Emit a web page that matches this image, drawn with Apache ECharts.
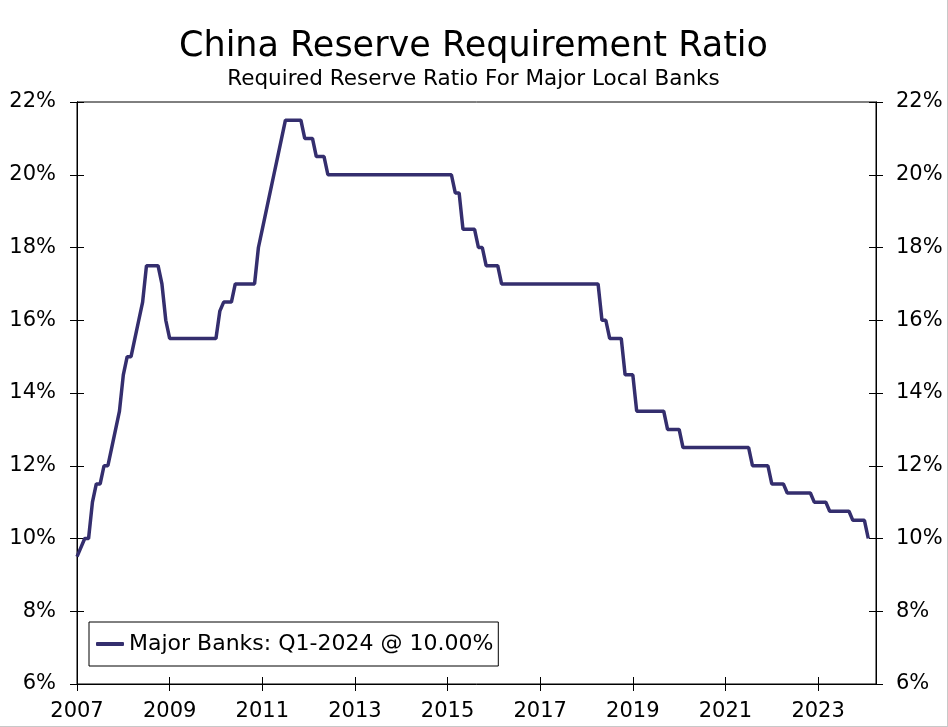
<!DOCTYPE html>
<html>
  <head>
    <meta charset="UTF-8" />
    <title>China Reserve Requirement Ratio</title>
    <style>
      html,
      body {
        margin: 0;
        padding: 0;
        background-color: #fff;
      }
      #main {
        width: 947px;
        height: 726px;
        border-right: 1px solid #c8c8c8;
        border-bottom: 1px solid #c8c8c8;
      }
    </style>
  </head>
  <body>
    <div id="main"></div>
  </body>
  <script src="https://cdn.jsdelivr.net/npm/echarts@6/dist/echarts.min.js"></script>
  <script>
    // monthly reserve ratio for major banks, Jan 2007 .. Feb 2024
    var startYear = 2007;
    var rrr2007_2012 = [
      9.5, 9.75, 10, 10, 11, 11.5, 11.5, 12, 12, 12.5, 13, 13.5,
      14.5, 15, 15, 15.5, 16, 16.5, 17.5, 17.5, 17.5, 17.5, 17, 16,
      15.5, 15.5, 15.5, 15.5, 15.5, 15.5, 15.5, 15.5, 15.5, 15.5, 15.5, 15.5,
      15.5, 16.25, 16.5, 16.5, 16.5, 17, 17, 17, 17, 17, 17, 18,
      18.5, 19, 19.5, 20, 20.5, 21, 21.5, 21.5, 21.5, 21.5, 21.5, 21,
      21, 21, 20.5, 20.5, 20.5, 20, 20, 20, 20, 20, 20, 20,
    ];
    var rrr2013_2018 = [
      20, 20, 20, 20, 20, 20, 20, 20, 20, 20, 20, 20,
      20, 20, 20, 20, 20, 20, 20, 20, 20, 20, 20, 20,
      20, 20, 19.5, 19.5, 18.5, 18.5, 18.5, 18.5, 18, 18, 17.5, 17.5,
      17.5, 17.5, 17, 17, 17, 17, 17, 17, 17, 17, 17, 17,
      17, 17, 17, 17, 17, 17, 17, 17, 17, 17, 17, 17,
      17, 17, 17, 17, 16, 16, 15.5, 15.5, 15.5, 15.5, 14.5, 14.5,
    ];
    var rrr2019_2024 = [
      14.5, 13.5, 13.5, 13.5, 13.5, 13.5, 13.5, 13.5, 13.5, 13, 13, 13,
      13, 12.5, 12.5, 12.5, 12.5, 12.5, 12.5, 12.5, 12.5, 12.5, 12.5, 12.5,
      12.5, 12.5, 12.5, 12.5, 12.5, 12.5, 12.5, 12, 12, 12, 12, 12,
      11.5, 11.5, 11.5, 11.5, 11.25, 11.25, 11.25, 11.25, 11.25, 11.25, 11.25, 11,
      11, 11, 11, 10.75, 10.75, 10.75, 10.75, 10.75, 10.75, 10.5, 10.5, 10.5,
      10.5, 10,
    ];
    var xTicks = [2007, 2009, 2011, 2013, 2015, 2017, 2019, 2021, 2023];
    var seriesName = "Major Banks: Q1-2024 @ 10.00%";

    var rrr = rrr2007_2012.concat(rrr2013_2018, rrr2019_2024);
    var points = [];
    for (var i = 0; i < rrr.length; i++) {
      points.push([startYear + i / 12, rrr[i]]);
    }

    var font = "DejaVu Sans";
    var black = "#000";
    var lineColor = "#342E6E";

    function xAxisOf(inside) {
      return {
        type: "value",
        position: "bottom",
        min: 2007,
        max: 2024.25,
        axisLine: { show: !inside, lineStyle: { color: black, width: 1 } },
        axisTick: {
          show: true,
          inside: inside,
          length: 7,
          customValues: xTicks,
          lineStyle: { color: black, width: 1 },
        },
        axisLabel: {
          show: !inside,
          customValues: xTicks,
          formatter: function (v) {
            return String(v);
          },
          margin: 17,
          fontSize: 21,
          fontFamily: font,
          color: black,
        },
        splitLine: { show: false },
      };
    }

    function yAxisOf(pos, inside) {
      return {
        type: "value",
        position: pos,
        min: 6,
        max: 22,
        interval: 2,
        axisLine: { show: true, lineStyle: { color: black, width: 1 } },
        axisTick: {
          show: true,
          inside: inside,
          length: 7,
          lineStyle: { color: black, width: 1 },
        },
        axisLabel: {
          show: !inside,
          formatter: "{value}%",
          margin: pos == "left" ? 21 : 20,
          fontSize: 21,
          fontFamily: font,
          color: black,
        },
        splitLine: { show: false },
      };
    }

    var myChart = echarts.init(document.getElementById("main"));
    var option = {
      animation: false,
      backgroundColor: "#fff",
      textStyle: { fontFamily: font },
      title: [
        {
          text: "China Reserve Requirement Ratio",
          left: "center",
          top: 24,
          textStyle: {
            fontSize: 35,
            fontWeight: "normal",
            fontFamily: font,
            color: black,
          },
        },
        {
          text: "Required Reserve Ratio For Major Local Banks",
          left: "center",
          top: 63,
          textStyle: {
            fontSize: 21.5,
            fontWeight: "normal",
            fontFamily: font,
            color: black,
          },
        },
      ],
      legend: {
        left: 89,
        top: 622,
        orient: "vertical",
        padding: [11, 5, 11, 7],
        backgroundColor: "#fff",
        borderColor: black,
        borderWidth: 1,
        borderRadius: 0,
        icon: "roundRect",
        itemWidth: 28,
        itemHeight: 4,
        itemStyle: { color: lineColor },
        textStyle: { fontSize: 22, fontFamily: font, color: black },
        data: [seriesName],
      },
      grid: {
        left: 77,
        right: 71,
        top: 102,
        bottom: 42,
        show: true,
        borderColor: black,
        borderWidth: 1,
        backgroundColor: "transparent",
      },
      xAxis: [xAxisOf(false), xAxisOf(true)],
      yAxis: [
        yAxisOf("left", false),
        yAxisOf("left", true),
        yAxisOf("right", false),
        yAxisOf("right", true),
      ],
      series: [
        {
          name: seriesName,
          type: "line",
          xAxisIndex: 0,
          yAxisIndex: 0,
          data: points,
          symbol: "none",
          showSymbol: false,
          lineStyle: { color: lineColor, width: 3.5 },
          itemStyle: { color: lineColor },
        },
      ],
    };
    myChart.setOption(option);
  </script>
</html>
